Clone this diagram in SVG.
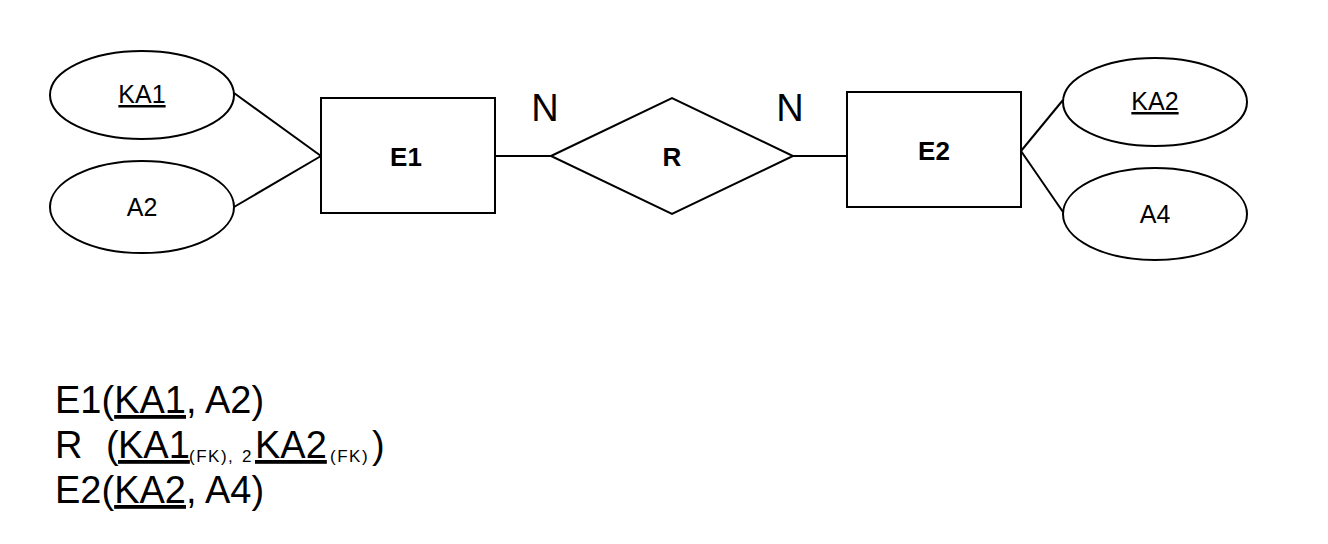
<svg xmlns="http://www.w3.org/2000/svg" width="1328" height="544" viewBox="0 0 1328 544">
  <style>
    .shape { fill: #ffffff; stroke: #000000; stroke-width: 2; }
    .edge { fill: none; stroke: #000000; stroke-width: 2; }
    .lbl { font-family: "Liberation Sans", Arial, Helvetica, sans-serif; fill: #000000; }
    .attr { font-size: 25px; text-anchor: middle; }
    .ent { font-size: 26px; font-weight: bold; text-anchor: middle; }
    .card { font-size: 38px; text-anchor: middle; }
    .schema { font-size: 38px; }
    .sub { font-size: 17px; letter-spacing: 1.5px; }
    .key { text-decoration: underline; }
  </style>
  <rect width="1328" height="544" fill="#ffffff"/>

  <!-- connectors -->
  <g id="connectors">
    <line class="edge" x1="234" y1="93" x2="321" y2="156"/>
    <line class="edge" x1="234" y1="207" x2="321" y2="156"/>
    <line class="edge" x1="495" y1="156" x2="551" y2="156"/>
    <line class="edge" x1="793" y1="156" x2="847" y2="156"/>
    <line class="edge" x1="1021" y1="151" x2="1063" y2="100"/>
    <line class="edge" x1="1021" y1="151" x2="1063" y2="212"/>
  </g>

  <!-- attributes of E1 -->
  <g id="attr-ka1">
    <ellipse class="shape" cx="142" cy="95" rx="92" ry="44"/>
    <text class="lbl attr key" x="142" y="103">KA1</text>
  </g>
  <g id="attr-a2">
    <ellipse class="shape" cx="142" cy="207" rx="92" ry="46"/>
    <text class="lbl attr" x="142" y="216">A2</text>
  </g>

  <!-- entity E1 -->
  <g id="entity-e1">
    <rect class="shape" x="321" y="98" width="174" height="115"/>
    <text class="lbl ent" x="406" y="166">E1</text>
  </g>

  <!-- relationship R -->
  <g id="rel-r">
    <polygon class="shape" points="551,156 672,98 793,156 672,214"/>
    <text class="lbl ent" x="672" y="166">R</text>
  </g>

  <!-- cardinalities -->
  <g id="card-left"><text class="lbl card" x="545" y="121">N</text></g>
  <g id="card-right"><text class="lbl card" x="790" y="121">N</text></g>

  <!-- entity E2 -->
  <g id="entity-e2">
    <rect class="shape" x="847" y="92" width="174" height="115"/>
    <text class="lbl ent" x="934" y="160">E2</text>
  </g>

  <!-- attributes of E2 -->
  <g id="attr-ka2">
    <ellipse class="shape" cx="1155" cy="102" rx="92" ry="44"/>
    <text class="lbl attr key" x="1155" y="110">KA2</text>
  </g>
  <g id="attr-a4">
    <ellipse class="shape" cx="1155" cy="214" rx="92" ry="46"/>
    <text class="lbl attr" x="1155" y="223">A4</text>
  </g>

  <!-- relational schema -->
  <g id="schema">
    <text class="lbl schema" x="55" y="413">E1(<tspan class="key">KA1</tspan>, A2)</text>
    <text class="lbl schema" y="458"><tspan x="55">R</tspan><tspan x="106">(</tspan><tspan x="118" class="key">KA1</tspan><tspan x="189" dy="4" class="sub">(FK),</tspan><tspan x="242" class="sub">2</tspan><tspan x="255" dy="-4" class="key">KA2</tspan><tspan x="330" dy="4" class="sub">(FK)</tspan><tspan x="372" dy="-4">)</tspan></text>
    <text class="lbl schema" x="55" y="503">E2(<tspan class="key">KA2</tspan>, A4)</text>
  </g>
</svg>
